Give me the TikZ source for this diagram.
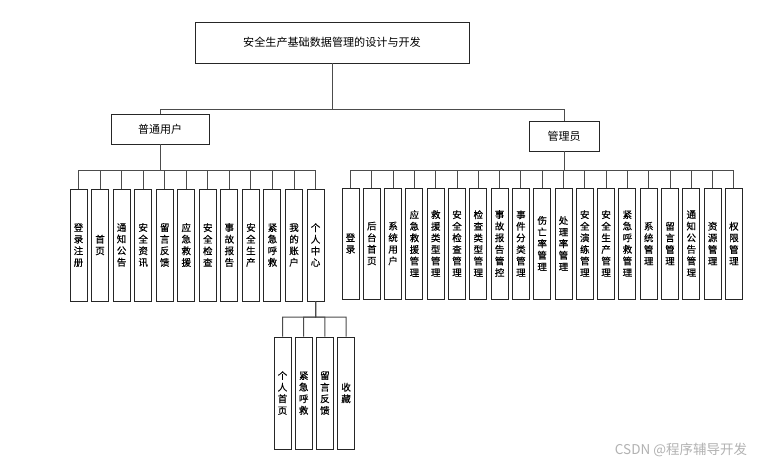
\documentclass[tikz,border=0pt]{standalone}
\usepackage{fontspec}
\setmainfont{Noto Sans CJK SC}
\newfontfamily\boxfont[FakeBold=0.4]{Noto Sans CJK SC}
\begin{document}
\begin{tikzpicture}[x=1pt,y=-1pt,
  topbox/.style={draw=black!85, line width=0.9pt, fill=white, inner sep=0pt, align=center},
  vbox/.style={draw=black!85, line width=1pt, fill=white, inner sep=0pt, minimum width=17pt, minimum height=112pt, text width=12pt, align=center, font=\boxfont\fontsize{9.5}{11.6}\selectfont},
  conn/.style={draw=black!70, line width=1pt}]
\useasboundingbox (0,0) rectangle (759,465);
\fill[white] (0,0) rectangle (759,465);

\node[topbox, minimum width=274pt, minimum height=41pt, font=\fontsize{11.1}{14}\selectfont] (root) at (332,42.5) {安全生产基础数据管理的设计与开发};
\node[topbox, minimum width=98pt, minimum height=30pt, font=\fontsize{11}{14}\selectfont] (user) at (160,129) {普通用户};
\node[topbox, minimum width=70pt, minimum height=30pt, font=\fontsize{11}{14}\selectfont] (admin) at (564,136) {管理员};

\draw[conn] (root.south) -- ++(0,46.5) -| (user.north);
\draw[conn] (root.south) -- ++(0,46.5) -| (admin.north);

% user modules
\foreach \t [count=\i] in {{登\\录\\注\\册},{首\\页},{通\\知\\公\\告},{安\\全\\资\\讯},{留\\言\\反\\馈},{应\\急\\救\\援},{安\\全\\检\\查},{事\\故\\报\\告},{安\\全\\生\\产},{紧\\急\\呼\\救},{我\\的\\账\\户},{个\\人\\中\\心}}{
  \node[vbox] (u\i) at ({78.5+21.55*(\i-1)},245) {\t};
}
\coordinate (ub) at (160,170);
\foreach \i in {1,...,12}{
  \draw[conn] (user.south) -- (ub) -| (u\i.north);
}

% admin modules
\foreach \t [count=\i] in {{登\\录},{后\\台\\首\\页},{系\\统\\用\\户},{应\\急\\救\\援\\管\\理},{救\\援\\类\\型\\管\\理},{安\\全\\检\\查\\管\\理},{检\\查\\类\\型\\管\\理},{事\\故\\报\\告\\管\\控},{事\\件\\分\\类\\管\\理},{伤\\亡\\率\\管\\理},{处\\理\\率\\管\\理},{安\\全\\演\\练\\管\\理},{安\\全\\生\\产\\管\\理},{紧\\急\\呼\\救\\管\\理},{系\\统\\管\\理},{留\\言\\管\\理},{通\\知\\公\\告\\管\\理},{资\\源\\管\\理},{权\\限\\管\\理}}{
  \node[vbox, minimum height=111pt] (a\i) at ({350.5+21.3*(\i-1)},243.5) {\t};
}
\coordinate (ab) at (564,170);
\foreach \i in {1,...,19}{
  \draw[conn] (admin.south) -- (ab) -| (a\i.north);
}

% personal center submodules
\foreach \t [count=\i] in {{个\\人\\首\\页},{紧\\急\\呼\\救},{留\\言\\反\\馈},{收\\藏}}{
  \node[vbox] (b\i) at ({282.5+21.2*(\i-1)},393) {\t};
}
\coordinate (bb) at (315.5,317);
\foreach \i in {1,...,4}{
  \draw[conn] (u12.south) -- (bb) -| (b\i.north);
}

\node[text=black!30, font=\fontsize{13.5}{15}\selectfont, anchor=center] (wm) at (681,450) {CSDN @程序辅导开发};
\end{tikzpicture}
\end{document}
